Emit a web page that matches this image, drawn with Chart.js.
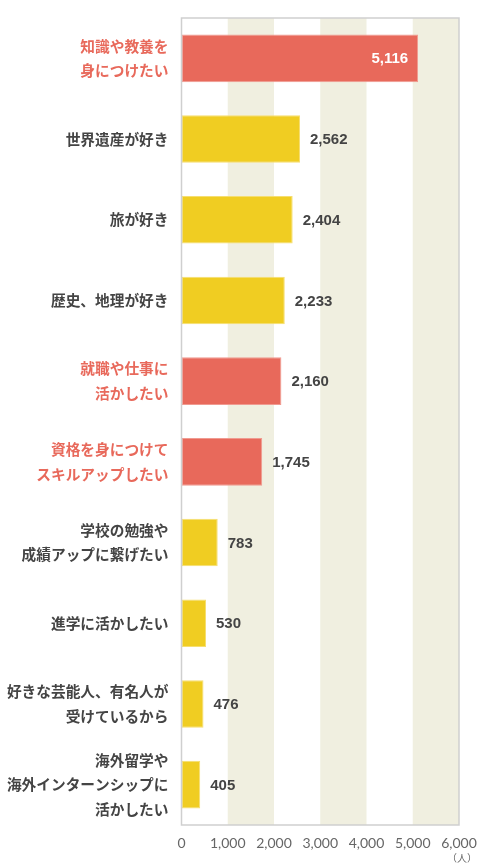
<!DOCTYPE html>
<html>
<head>
<meta charset="utf-8">
<script src="https://cdn.jsdelivr.net/npm/chart.js@4"></script>
<style>
  html, body { margin: 0; padding: 0; background: #fff; }
  #wrap { width: 480px; height: 867px; position: relative; }
</style>
</head>
<body>
<div id="wrap"><canvas id="chart"></canvas></div>
<script>
// data
var categories = [
  ['知識や教養を', '身につけたい'],
  '世界遺産が好き',
  '旅が好き',
  '歴史、地理が好き',
  ['就職や仕事に', '活かしたい'],
  ['資格を身につけて', 'スキルアップしたい'],
  ['学校の勉強や', '成績アップに繋げたい'],
  '進学に活かしたい',
  ['好きな芸能人、有名人が', '受けているから'],
  ['海外留学や', '海外インターンシップに', '活かしたい']
];
var counts = [5116, 2562, 2404, 2233, 2160, 1745, 783, 530, 476, 405];
var highlighted = [true, false, false, false, true, true, false, false, false, false];
var xTicks = [0, 1000, 2000, 3000, 4000, 5000, 6000];
var bandRanges = [[1000, 2000], [3000, 4000], [5000, 6000]];
var unitLabel = '（人）';

var RED = '#e8695b';
var YELLOW = '#f0cd22';

// shaded columns behind the bars
var bandsPlugin = {
  id: 'bands',
  beforeDatasetsDraw: function (chart) {
    var ctx = chart.ctx, a = chart.chartArea, x = chart.scales.x;
    ctx.save();
    ctx.fillStyle = '#f0efe0';
    bandRanges.forEach(function (r) {
      var x0 = x.getPixelForValue(r[0]), x1 = x.getPixelForValue(r[1]);
      ctx.fillRect(x0, a.top, x1 - x0, a.bottom - a.top);
    });
    ctx.restore();
  },
  afterDatasetsDraw: function (chart) {
    var ctx = chart.ctx, a = chart.chartArea;
    ctx.save();
    ctx.strokeStyle = '#cfcfcf';
    ctx.lineWidth = 1.5;
    ctx.strokeRect(a.left, a.top, a.right - a.left, a.bottom - a.top);
    ctx.restore();
  }
};

// value labels + unit
var valuesPlugin = {
  id: 'values',
  afterDraw: function (chart) {
    var ctx = chart.ctx, meta = chart.getDatasetMeta(0);
    ctx.save();
    ctx.font = 'bold 15px "Liberation Sans", Arial, sans-serif';
    ctx.textBaseline = 'middle';
    meta.data.forEach(function (bar, i) {
      var txt = counts[i].toLocaleString('en-US');
      if (i === 0) {
        ctx.fillStyle = '#fff';
        ctx.textAlign = 'right';
        ctx.fillText(txt, bar.x - 10, bar.y + 1);
      } else {
        ctx.fillStyle = '#444';
        ctx.textAlign = 'left';
        ctx.fillText(txt, bar.x + 10, bar.y + 1);
      }
    });
    var a = chart.chartArea;
    ctx.font = '10px "Noto Sans CJK JP", sans-serif';
    ctx.fillStyle = '#666';
    ctx.textAlign = 'right';
    ctx.fillText(unitLabel, a.right + 18, 858);
    ctx.restore();
  }
};

new Chart(document.getElementById('chart'), {
  type: 'bar',
  data: {
    labels: categories,
    datasets: [{
      data: counts,
      backgroundColor: highlighted.map(function (h) { return h ? RED : YELLOW; }),
      borderColor: highlighted.map(function (h) { return h ? '#f09a90' : '#f6de70'; }),
      borderWidth: 1,
      borderSkipped: false,
      categoryPercentage: 0.59,
      barPercentage: 1
    }]
  },
  options: {
    indexAxis: 'y',
    responsive: true,
    maintainAspectRatio: false,
    animation: false,
    layout: { padding: { top: 18, right: 21, bottom: 0, left: 0 } },
    plugins: { legend: { display: false }, tooltip: { enabled: false } },
    scales: {
      x: {
        min: 0,
        max: 6000,
        afterBuildTicks: function (scale) {
          scale.ticks = xTicks.map(function (v) { return { value: v }; });
        },
        afterFit: function (scale) {
          scale.paddingLeft = 0;
          scale.paddingRight = 0;
          scale.height = 42;
        },
        grid: { display: false, drawTicks: false },
        border: { display: false },
        ticks: {
          padding: 10,
          maxRotation: 0,
          color: '#666',
          font: { family: 'Lato, "Noto Sans", sans-serif', size: 14 },
          callback: function (v) { return v.toLocaleString('en-US'); }
        }
      },
      y: {
        afterFit: function (scale) {
          scale.width = 181.5;
          scale.paddingTop = 0;
          scale.paddingBottom = 0;
        },
        grid: { display: false, drawTicks: false },
        border: { display: false },
        ticks: {
          padding: 13,
          color: function (c) { return highlighted[c.index] ? RED : '#444'; },
          font: { family: '"Noto Sans CJK JP", sans-serif', size: 14.7, weight: 'bold', lineHeight: 1.68 }
        }
      }
    }
  },
  plugins: [bandsPlugin, valuesPlugin]
});
</script>
</body>
</html>
